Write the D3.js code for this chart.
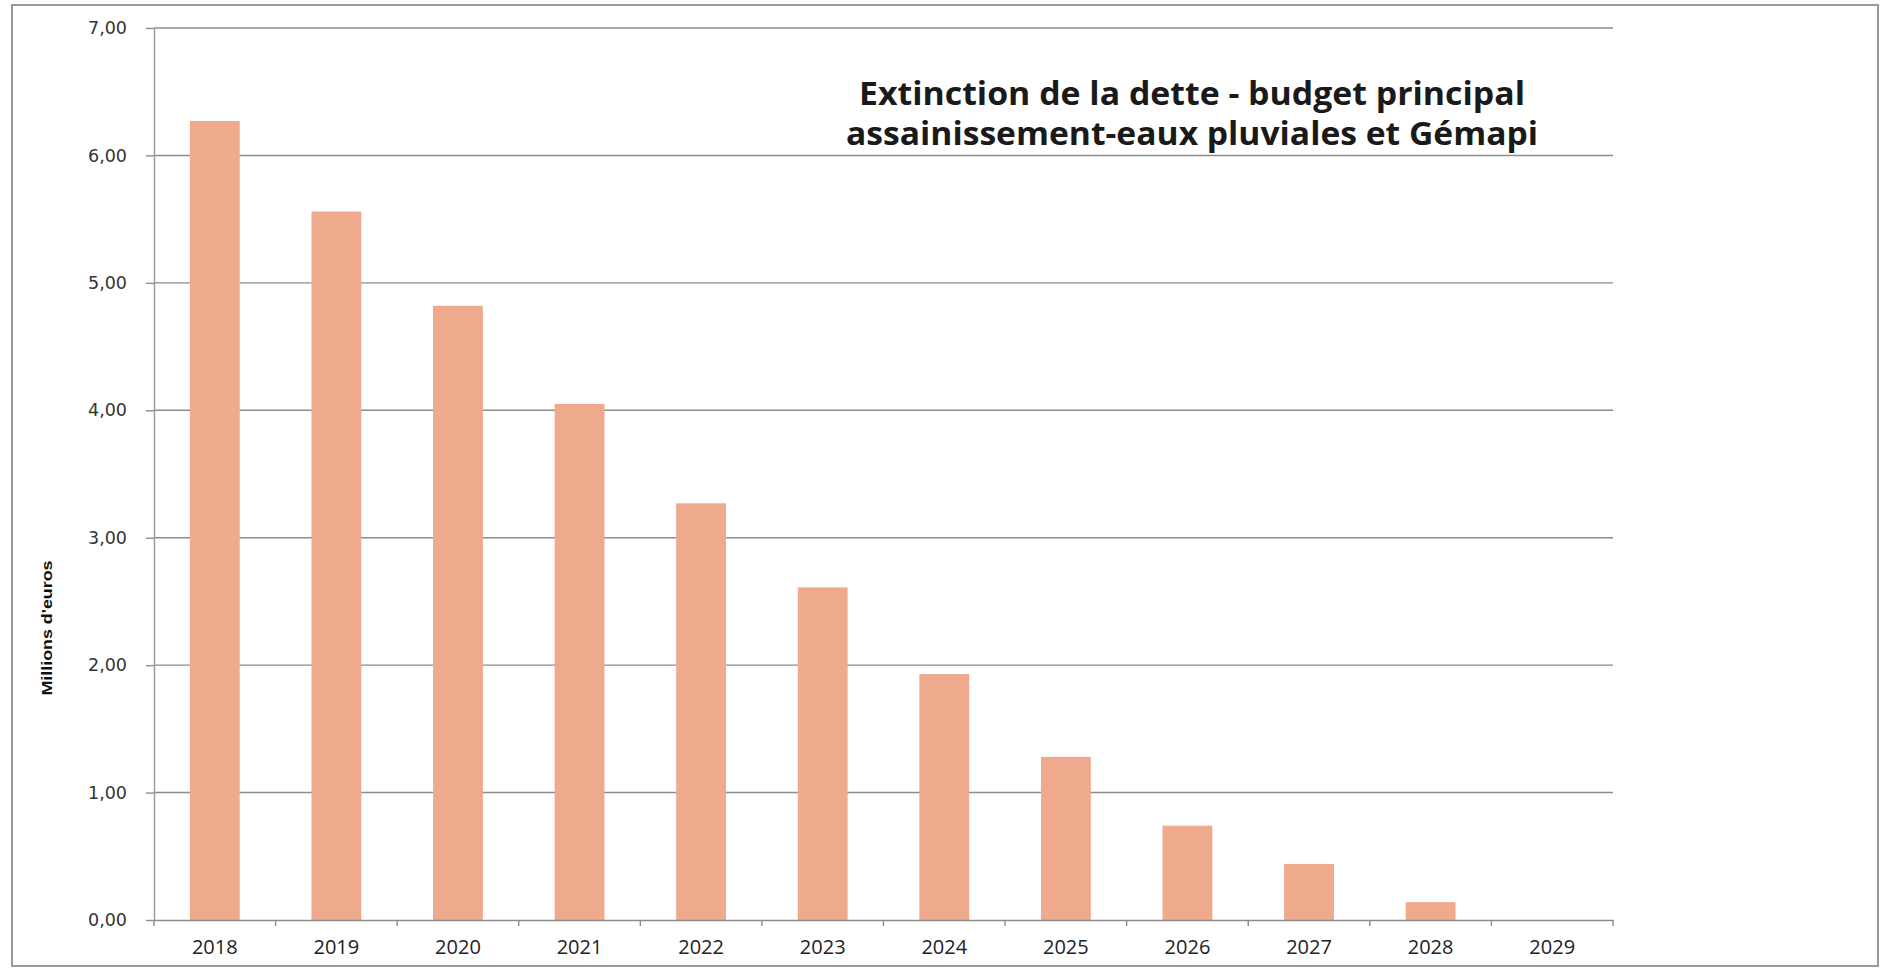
<!DOCTYPE html>
<html>
<head>
<meta charset="utf-8">
<script src="https://cdn.jsdelivr.net/npm/d3@7"></script>
<style>
  body { margin: 0; background: #fff; }
</style>
</head>
<body>
<script>
// Données (millions d'euros)
const annees = ["2018", "2019", "2020", "2021", "2022", "2023", "2024", "2025", "2026", "2027", "2028", "2029"];
const encours = [6.27, 5.56, 4.82, 4.05, 3.27, 2.61, 1.93, 1.28, 0.74, 0.44, 0.14, 0];
const graduations = [0, 1, 2, 3, 4, 5, 6, 7];
const titreLignes = ["Extinction de la dette - budget principal", "assainissement-eaux pluviales et Gémapi"];
const titreAxe = "Millions d'euros";

// Création du canva SVG
const svg = d3.select("body")
    .append("svg")
    .attr("width", 1884)
    .attr("height", 969)
    .style("background-color", "#fff")

// cadre extérieur
svg.append("rect")
    .attr("x", 12)
    .attr("y", 5)
    .attr("width", 1866)
    .attr("height", 961)
    .attr("fill", "none")
    .attr("stroke", "#9a9a9a")
    .attr("stroke-width", 2)

const x = d3.scaleBand()
    .domain(annees)
    .range([154, 1613])
    .paddingInner(0.59)
    .paddingOuter(0.295)

const y = d3.scaleLinear()
    .domain([0, 7])
    .range([920, 28])

// lignes de grille horizontales
svg.append("g")
    .selectAll("line")
    .data(graduations.filter(d => d > 0))
    .enter()
    .append("line")
    .attr("x1", 154)
    .attr("x2", 1613)
    .attr("y1", d => y(d))
    .attr("y2", d => y(d))
    .attr("stroke", "#8c8c8c")
    .attr("stroke-width", 1.4)

// axe vertical
const axeY = svg.append("g")
    .attr("transform", "translate(154,0)")
    .call(d3.axisLeft(y)
        .tickValues(graduations)
        .tickSize(8)
        .tickSizeOuter(0)
        .tickPadding(19)
        .tickFormat(d => d3.format(".2f")(d).replace(".", ",")))

axeY.select(".domain").attr("stroke", "#9a9a9a").attr("stroke-width", 1.4)
axeY.selectAll(".tick line").attr("stroke", "#8c8c8c").attr("stroke-width", 1.4)
axeY.selectAll("text")
    .attr("fill", "#333")
    .style("font-family", "'DejaVu Sans', sans-serif")
    .style("font-size", "17.5px")

// barres
svg.append("g")
    .selectAll("rect")
    .data(encours)
    .enter()
    .append("rect")
    .attr("x", (d, i) => x(annees[i]))
    .attr("y", d => y(d))
    .attr("width", x.bandwidth())
    .attr("height", d => y(0) - y(d))
    .attr("fill", "#efa98c")

// axe horizontal
const axeX = svg.append("g")
    .attr("transform", "translate(0,920)")
    .call(d3.axisBottom(x).tickSize(0).tickPadding(20))

axeX.select(".domain").attr("stroke", "#8c8c8c").attr("stroke-width", 1.4)
axeX.selectAll("text")
    .attr("fill", "#222")
    .style("font-family", "'Open Sans', sans-serif")
    .style("font-size", "20px")

// petites graduations entre les années
axeX.selectAll(".sep")
    .data(d3.range(annees.length + 1))
    .enter()
    .append("line")
    .attr("class", "sep")
    .attr("x1", i => x.range()[0] + i * x.step())
    .attr("x2", i => x.range()[0] + i * x.step())
    .attr("y1", 0)
    .attr("y2", 6)
    .attr("stroke", "#8c8c8c")
    .attr("stroke-width", 1.4)

// titre de l'axe
svg.append("text")
    .attr("transform", "translate(52,628) rotate(-90)")
    .attr("text-anchor", "middle")
    .attr("textLength", 135)
    .attr("lengthAdjust", "spacingAndGlyphs")
    .style("font-family", "'Liberation Sans', sans-serif")
    .style("font-weight", "bold")
    .style("font-size", "15px")
    .attr("fill", "#111")
    .text(titreAxe)

// titre du graphique
const largeurs = [666, 692]
svg.append("g")
    .selectAll("text")
    .data(titreLignes)
    .enter()
    .append("text")
    .attr("x", 1192)
    .attr("y", (d, i) => 105 + i * 40)
    .attr("text-anchor", "middle")
    .attr("textLength", (d, i) => largeurs[i])
    .attr("lengthAdjust", "spacingAndGlyphs")
    .style("font-family", "'Open Sans', sans-serif")
    .style("font-weight", "bold")
    .style("font-size", "32px")
    .attr("fill", "#1a1a1a")
    .text(d => d)
</script>
</body>
</html>
